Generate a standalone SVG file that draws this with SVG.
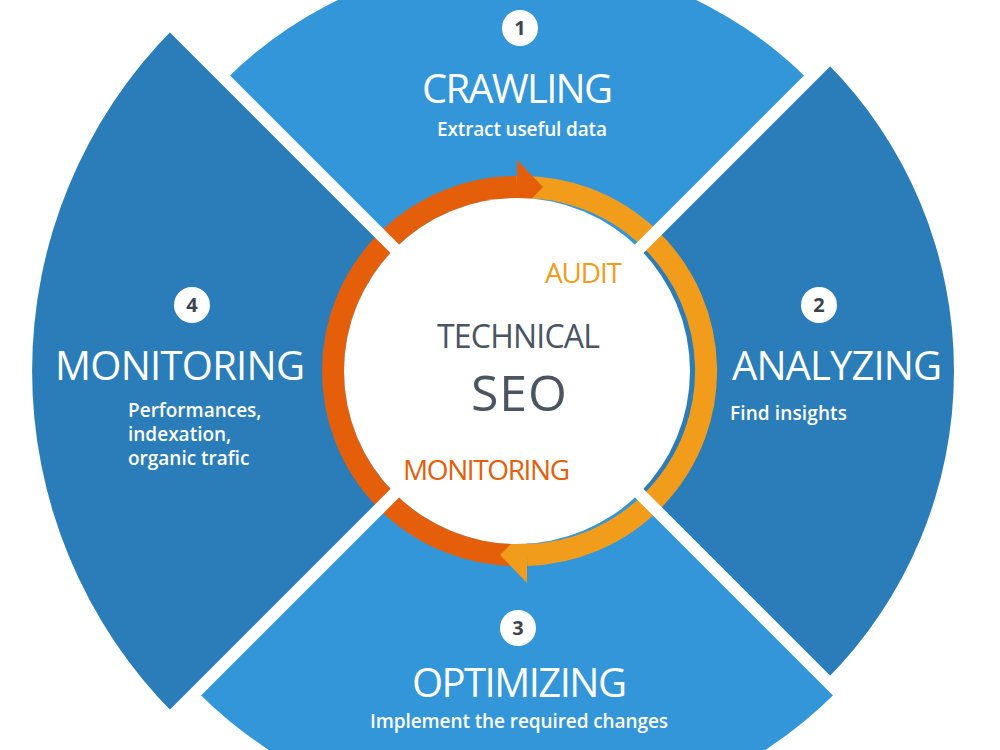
<svg xmlns="http://www.w3.org/2000/svg" width="1000" height="750" viewBox="0 0 1000 750">
  <defs>
    <style>
      .light { fill: #3396d8; }
      .dark { fill: #2a7db8; }
      .title { font-family: "Open Sans", "Liberation Sans", sans-serif; font-size: 40px; fill: #ffffff; }
      .sub { font-family: "Open Sans", "Liberation Sans", sans-serif; font-size: 19px; fill: #ffffff; font-weight: 600; }
      .numc { fill: #ffffff; }
      .num { font-family: "Open Sans", "Liberation Sans", sans-serif; font-size: 20px; font-weight: 700; fill: #3d4450; text-anchor: middle; }
      .gap { stroke: #ffffff; stroke-width: 12; fill: none; }
      .ctr { font-family: "Open Sans", "Liberation Sans", sans-serif; fill: #4a5561; }
      .lbl { font-family: "Open Sans", "Liberation Sans", sans-serif; font-size: 28px; }
    </style>
  </defs>
  <rect width="1000" height="750" fill="#ffffff"/>

  <g id="crawling">
    <path class="light" d="M517,371 L225.7,79.7 A412,412 0 0 1 808.3,79.7 Z"/>
    <circle class="numc" cx="520" cy="28" r="18"/>
    <text class="num" x="520" y="35">1</text>
    <text class="title" x="422" y="103" textLength="191">CRAWLING</text>
    <text class="sub" x="437" y="136" textLength="170">Extract useful data</text>
  </g>

  <g id="analyzing">
    <path class="dark" d="M517,371 L826,62 A437,437 0 0 1 826,680 Z"/>
    <circle class="numc" cx="819" cy="305" r="18"/>
    <text class="num" x="819" y="312">2</text>
    <text class="title" x="732" y="380" textLength="210">ANALYZING</text>
    <text class="sub" x="730" y="420" textLength="117">Find insights</text>
  </g>

  <g id="optimizing">
    <path class="light" d="M517,371 L837.3,691.3 A453,453 0 0 1 196.7,691.3 Z"/>
    <circle class="numc" cx="518" cy="628" r="18"/>
    <text class="num" x="518" y="635">3</text>
    <text class="title" x="412" y="697" textLength="215">OPTIMIZING</text>
    <text class="sub" x="370" y="728" textLength="298">Implement the required changes</text>
  </g>

  <g id="monitoring">
    <path class="dark" d="M517,371 L174.1,713.9 A485,485 0 0 1 174.1,28.1 Z"/>
    <circle class="numc" cx="192" cy="305" r="18"/>
    <text class="num" x="192" y="312">4</text>
    <text class="title" x="55" y="380" textLength="250">MONITORING</text>
    <text class="sub" x="128" y="417">Performances,</text>
    <text class="sub" x="128" y="441">indexation,</text>
    <text class="sub" x="128" y="465">organic trafic</text>
  </g>

  <g id="connectors">
    <path d="M517,555 A184,184 0 0 1 517,187" stroke="#e55f0b" stroke-width="22" fill="none"/>
    <path d="M517,187 A184,184 0 0 1 527,555" stroke="#f29c1c" stroke-width="22" fill="none"/>
    <polygon points="517,160 543,187 517,214" fill="#e55f0b"/>
    <polygon points="527,528 500,555 527,583" fill="#f29c1c"/>
  </g>

  <g id="separators">
    <line class="gap" x1="-3" y1="-149" x2="1037" y2="891"/>
    <line class="gap" x1="1037" y1="-149" x2="-3" y2="891"/>
  </g>

  <g id="center">
    <circle cx="517" cy="371" r="173" fill="#ffffff"/>
    <text class="lbl" x="545" y="283" fill="#f29c1c" textLength="77">AUDIT</text>
    <text class="ctr" x="437" y="348" font-size="32" textLength="163">TECHNICAL</text>
    <text class="ctr" x="471" y="411" font-size="50" textLength="96">SEO</text>
    <text class="lbl" x="403" y="480" fill="#e55f0b" textLength="167">MONITORING</text>
  </g>
</svg>
